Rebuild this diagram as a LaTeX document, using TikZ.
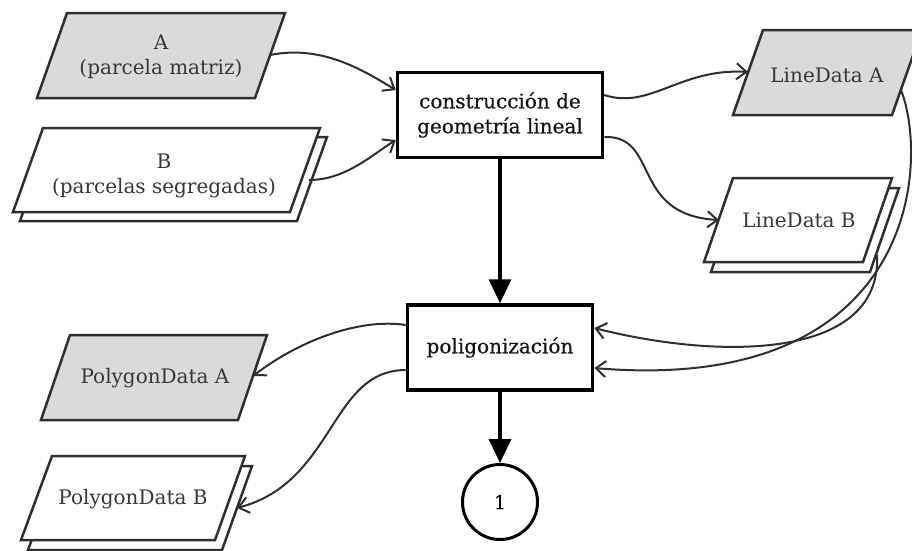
\documentclass[tikz,border=0pt]{standalone}
\usepackage{fontspec}
\setmainfont{DejaVu Serif}
\newfontfamily\procfont[FakeBold=0.4]{DejaVu Serif}
\usetikzlibrary{arrows.meta}
\definecolor{dgray}{HTML}{2F2F2F}
\definecolor{lgray}{HTML}{DADADA}
\definecolor{tgray}{HTML}{383838}
\begin{document}
\begin{tikzpicture}[x=1pt,y=-1pt,
  datashape/.style={draw=dgray, line width=2.5pt, line join=miter},
  graydata/.style={datashape, fill=lgray},
  whitedata/.style={datashape, fill=white},
  datalabel/.style={text=tgray, font=\fontsize{20}{25}\selectfont, align=center, inner sep=0pt},
  procbox/.style={draw=black, line width=3.5pt, fill=white, font=\procfont\fontsize{20}{25}\selectfont, align=center, text=black!92, inner sep=0pt},
  conn/.style={draw=dgray, line width=2pt, -{Straight Barb[length=10pt,width=16pt]}},
  mainflow/.style={draw=black, line width=3.5pt, -{Triangle[length=24pt,width=22pt]}}]
\useasboundingbox (0,0) rectangle (912,550);
\clip (0,0) rectangle (912,550);
% ---- data shapes ----
\draw[graydata] (67,13) -- (285,13) -- (255,98) -- (37,98) -- cycle;
\node[datalabel] (A) at (161,57) {A\\(parcela matriz)};
\draw[whitedata] (50,137) -- (327,137) -- (297,221) -- (20,221) -- cycle;
\draw[whitedata] (43,128) -- (320,128) -- (290,212) -- (13,212) -- cycle;
\node[datalabel] (B) at (164,176) {B\\(parcelas segregadas)};
\draw[graydata] (763,30) -- (922,30) -- (892,115) -- (733,115) -- cycle;
\node[datalabel] (LA) at (827,75) {LineData A};
\draw[whitedata] (740,188) -- (899,188) -- (870,272) -- (711,272) -- cycle;
\draw[whitedata] (733,178) -- (892,178) -- (863,262) -- (704,262) -- cycle;
\node[datalabel] (LB) at (799,220) {LineData B};
\draw[graydata] (70,335) -- (267,335) -- (238,420) -- (41,420) -- cycle;
\node[datalabel] (PA) at (155,378) {PolygonData A};
\draw[whitedata] (59,466) -- (252,466) -- (222,550) -- (28,550) -- cycle;
\draw[whitedata] (52,456) -- (245,456) -- (215,540) -- (21,540) -- cycle;
\node[datalabel] (PB) at (133,499) {PolygonData B};
% ---- process nodes ----
\node[procbox, minimum width=205pt, minimum height=85pt] (geo) at (500,115) {construcción de\\geometría lineal};
\node[procbox, minimum width=185pt, minimum height=85pt] (pol) at (500,347.5) {poligonización};
\node[draw=black, circle, line width=3pt, minimum size=75pt, inner sep=0pt, font=\procfont\fontsize{19}{24}\selectfont] (one) at (500,502) {1};
% ---- connector end points ----
\coordinate (aR) at (270,55);
\coordinate (bR) at (309,180);
\coordinate (laL) at (748,72);
\coordinate (laR) at (901,90);
\coordinate (lbL) at (719,220);
\coordinate (lbR) at (877,255);
\coordinate (paR) at (253,376);
\coordinate (pbR) at (237,508);
% ---- connectors ----
\draw[conn] (aR) .. controls (320,45) and (360,68) .. (geo.west |- 0,90);
\draw[conn] (bR) .. controls (345,180) and (372,155) .. (geo.west |- 0,140);
\draw[conn] (geo.east |- 0,95) .. controls (650,110) and (680,68) .. (laL);
\draw[conn] (geo.east |- 0,137) .. controls (660,135) and (630,215) .. (lbL);
\draw[conn] (lbR) .. controls (882,360) and (720,360) .. (pol.east |- 0,328);
\draw[conn] (laR) .. controls (930,165) and (915,395) .. (pol.east |- 0,368);
\draw[conn] (pol.west |- 0,325) .. controls (360,318) and (300,340) .. (paR);
\draw[conn] (pol.west |- 0,370) .. controls (330,370) and (335,482) .. (pbR);
% ---- main flow ----
\draw[mainflow] (geo.south) -- (pol.north);
\draw[mainflow] (pol.south) -- (one.north);
\end{tikzpicture}
\end{document}
